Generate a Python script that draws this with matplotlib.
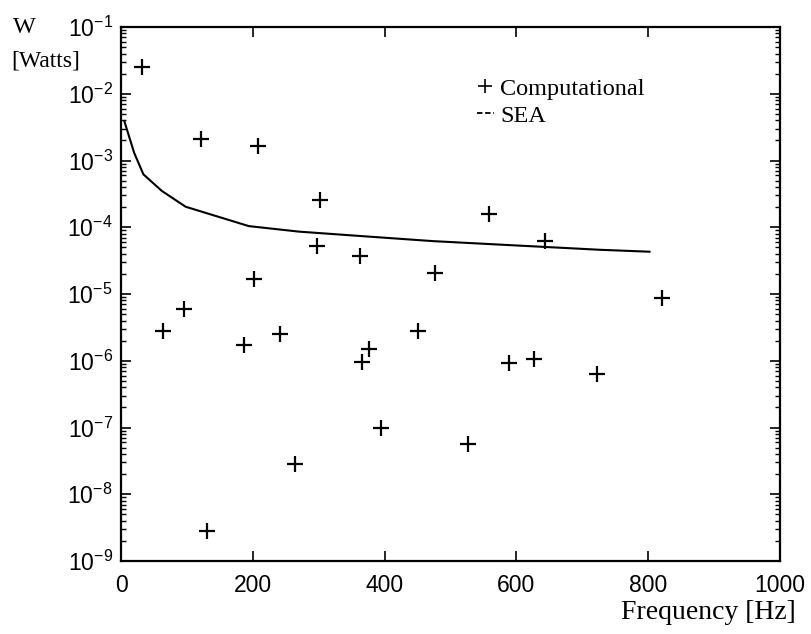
import matplotlib
matplotlib.use("Agg")
import matplotlib.pyplot as plt
from matplotlib.lines import Line2D
from matplotlib.ticker import FuncFormatter, FixedLocator, NullFormatter, NullLocator
import numpy as np

# Computational results (frequency [Hz], power [W])
comp_freq = [32, 121, 208, 302, 297, 362, 202, 477, 558, 644,
             63, 96, 186, 241, 130, 264, 366, 376, 394, 450,
             527, 589, 626, 722, 821]
comp_power = [2.5e-2, 2.1e-3, 1.65e-3, 2.6e-4, 5.2e-5, 3.75e-5, 1.65e-5, 2.05e-5, 1.56e-4, 6.2e-5,
              2.8e-6, 6.0e-6, 1.7e-6, 2.5e-6, 2.85e-9, 2.8e-8, 9.6e-7, 1.5e-6, 1.0e-7, 2.8e-6,
              5.6e-8, 9.2e-7, 1.08e-6, 6.4e-7, 8.7e-6]

# SEA prediction
sea_freq = [5, 20, 34, 62, 98, 194, 270, 371, 473, 574, 726, 802]
sea_power = [3.9e-3, 1.3e-3, 6.2e-4, 3.5e-4, 2.03e-4, 1.04e-4, 8.6e-5, 7.3e-5, 6.2e-5, 5.5e-5, 4.6e-5, 4.3e-5]

xticks = [0, 200, 400, 600, 800, 1000]
ydecades = [-9, -8, -7, -6, -5, -4, -3, -2, -1]

plt.rcParams['font.family'] = ['Liberation Sans', 'DejaVu Sans']
plt.rcParams['mathtext.default'] = 'regular'
serif = ['Liberation Serif', 'DejaVu Serif']

W, H = 811, 634
fig = plt.figure(figsize=(W / 100, H / 100), dpi=100)
ax = fig.add_axes([121 / W, 1 - 561 / H, (780 - 121) / W, (561 - 27) / H])

ax.plot(sea_freq, sea_power, color='black', lw=1.5)
ax.plot(comp_freq, comp_power, linestyle='none', marker='+', color='black',
        markersize=12, markeredgewidth=1.6)

ax.set_yscale('log')
ax.set_xlim(0, 1000)
ax.set_ylim(1e-9, 1e-1)

major_y = [10.0 ** d for d in ydecades]
minor_y = [m * 10.0 ** d for d in ydecades[:-1] for m in range(2, 10)]

ax.xaxis.set_major_locator(FixedLocator(xticks))
ax.xaxis.set_minor_locator(NullLocator())
ax.xaxis.set_major_formatter(FuncFormatter(lambda v, p: f"{int(v)}"))
ax.yaxis.set_major_locator(FixedLocator(major_y))
ax.yaxis.set_minor_locator(FixedLocator(minor_y))
ax.yaxis.set_minor_formatter(NullFormatter())
ax.yaxis.set_major_formatter(FuncFormatter(lambda v, p: r"$10^{%d}$" % int(round(np.log10(v)))))

ax.tick_params(axis='both', which='both', direction='in', top=True, right=True, colors='black')
ax.tick_params(axis='both', which='major', length=7, width=1.2, labelsize=16.5)
ax.tick_params(axis='x', which='major', pad=9)
ax.tick_params(axis='y', which='major', pad=6)
ax.tick_params(axis='y', which='minor', length=3.5, width=1.0)
for s in ax.spines.values():
    s.set_linewidth(1.6)

handles = [Line2D([], [], linestyle='none', marker='+', color='black', markersize=10, markeredgewidth=1.2),
           Line2D([], [], linestyle=(0, (3, 1.5)), color='black', lw=1.3)]
leg = ax.legend(handles, ['Computational', 'SEA'], loc='upper left', bbox_to_anchor=(0.54, 0.905),
                frameon=False, handlelength=0.7, handletextpad=0.25, borderpad=0, borderaxespad=0,
                labelspacing=0.2, prop={'family': serif, 'size': 17.5})

fig.text(13 / W, 1 - 33 / H, 'W', family=serif, fontsize=17.5, ha='left', va='baseline')
fig.text(11 / W, 1 - 67 / H, '[Watts]', family=serif, fontsize=17, ha='left', va='baseline')
fig.text(796 / W, 1 - 619 / H, 'Frequency [Hz]', family=serif, fontsize=20, ha='right', va='baseline')

fig.savefig('out.png', dpi=100)
